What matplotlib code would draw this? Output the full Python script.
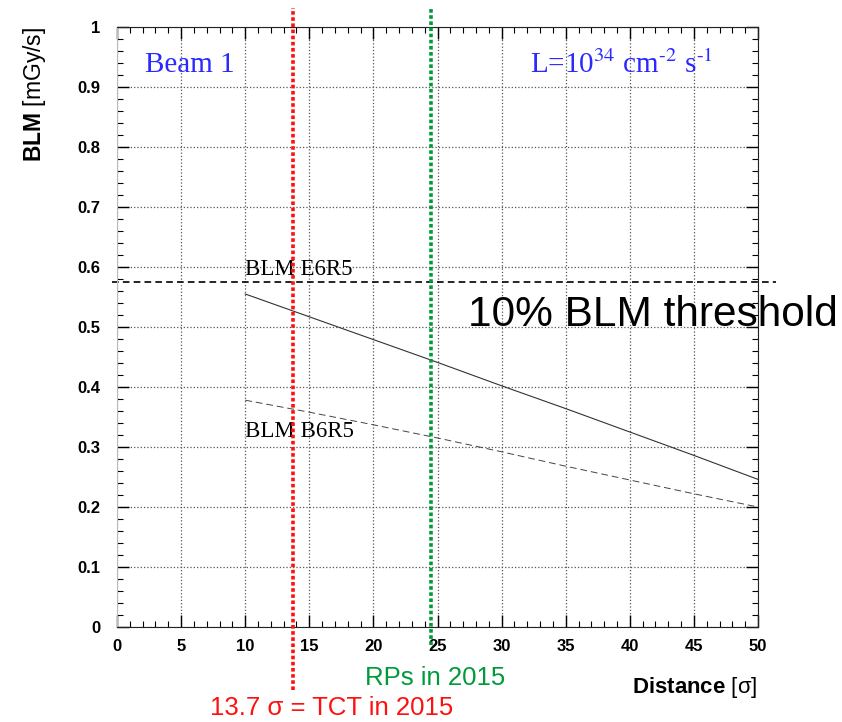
"""BLM signal versus collimator distance, Beam 1."""

import matplotlib

matplotlib.use("Agg")
import matplotlib.pyplot as plt
from matplotlib.ticker import FuncFormatter, MultipleLocator

# data
distance = [10, 15, 20, 25, 30, 35, 40, 45, 50]
blm_e6r5 = [0.555, 0.517, 0.479, 0.441, 0.402, 0.364, 0.325, 0.286, 0.246]
blm_b6r5 = [0.378, 0.358, 0.337, 0.315, 0.292, 0.268, 0.245, 0.222, 0.200]
threshold = 0.575
tct_position = 13.7
rp_position = 24.5

RED = "#ff1010"
GREEN = "#009a3a"
BLUE = "#2a2aff"

plt.rcParams.update(
    {
        "font.family": ["Liberation Sans", "DejaVu Sans"],
        "mathtext.fontset": "custom",
        "mathtext.rm": "Liberation Sans",
        "mathtext.bf": "Liberation Sans:bold",
    }
)

fig = plt.figure(figsize=(8.42, 7.22), dpi=100)
ax = fig.add_axes([0.139, 0.1316, 0.7612, 0.831])

ax.plot(distance, blm_e6r5, color="#333333", linewidth=0.8)
ax.plot(distance, blm_b6r5, color="#444444", linewidth=0.7, linestyle=(0, (7, 4)))

# threshold runs slightly past the frame on both sides
ax.plot([-0.4, 51.4], [threshold, threshold], color="black", linewidth=1.2,
        linestyle=(0, (4, 2.5)), clip_on=False)

ax.plot([tct_position, tct_position], [-0.105, 1.032], color=RED, linewidth=2.6,
        linestyle=(0, (1, 0.7)), dash_capstyle="butt", clip_on=False, zorder=5)
ax.plot([rp_position, rp_position], [-0.03, 1.032], color=GREEN, linewidth=2.6,
        linestyle=(0, (1, 0.7)), dash_capstyle="butt", clip_on=False, zorder=5)

ax.set_xlim(0, 50)
ax.set_ylim(0, 1)
ax.xaxis.set_major_locator(MultipleLocator(5))
ax.xaxis.set_minor_locator(MultipleLocator(1))
ax.yaxis.set_major_locator(MultipleLocator(0.1))
ax.yaxis.set_minor_locator(MultipleLocator(0.02))
ax.yaxis.set_major_formatter(FuncFormatter(lambda v, _: f"{v:g}"))
ax.tick_params(which="both", direction="in", top=True, right=True)
ax.tick_params(which="major", length=8.5, width=1)
ax.tick_params(which="minor", length=4.3, width=0.8)
ax.tick_params(axis="x", pad=9)
ax.tick_params(axis="y", pad=12)
for label in ax.get_xticklabels() + ax.get_yticklabels():
    label.set_fontweight("bold")
    label.set_fontsize(12)

ax.grid(True, which="major", linestyle=":", color="#555555", linewidth=0.9)
ax.spines["left"].set_color("#bbbbbb")
for side in ("top", "right", "bottom"):
    ax.spines[side].set_color("#222222")

ax.text(10, 0.579, "BLM E6R5", family="Liberation Serif", fontsize=16.5,
        va="bottom", ha="left")
ax.text(10, 0.325, "BLM B6R5", family="Liberation Serif", fontsize=16.5,
        va="center", ha="left")
ax.text(27.4, 0.52, "10% BLM threshold", fontsize=30.5, va="center", ha="left",
        zorder=2)
ax.text(2.2, 0.937, "Beam 1", family="Liberation Serif", fontsize=21,
        color=BLUE, va="center", ha="left")
ax.text(32.2, 0.937, r"L=10$^{34}$ cm$^{\text{-}2}$ s$^{\text{-}1}$",
        family="Liberation Serif", math_fontfamily="stix", fontsize=21,
        color=BLUE, va="center", ha="left")
ax.text(19.35, -0.085, "RPs in 2015", fontsize=18.5, color=GREEN,
        va="center", ha="left")
ax.text(7.25, -0.135, "13.7 σ = TCT in 2015", fontsize=18.5, color=RED,
        va="center", ha="left")

fig.text(35 / 842, 1 - 27 / 722, r"$\mathbf{BLM}$ [mGy/s]", rotation=90,
         fontsize=16.5, ha="center", va="top")
fig.text(757 / 842, 1 - 688 / 722, r"$\mathbf{Distance}$ [σ]", fontsize=16,
         ha="right", va="center")

fig.savefig("out.png", dpi=100)
